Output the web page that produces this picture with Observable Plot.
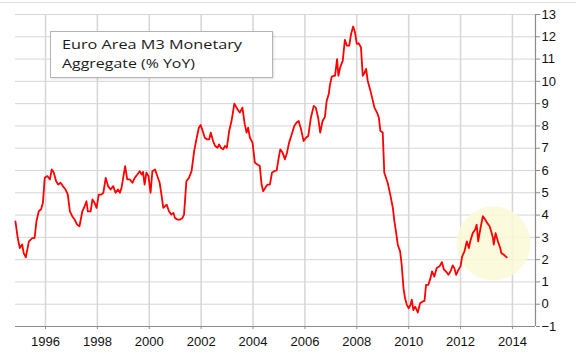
<!DOCTYPE html>
<html><head><meta charset="utf-8">
<script src="https://cdn.jsdelivr.net/npm/d3@7"></script>
<script src="https://cdn.jsdelivr.net/npm/@observablehq/plot@0.6"></script>
<style>
body{margin:0;background:#fff;}
#wrap{position:relative;width:576px;height:358px;overflow:hidden;background:#fff;}
#wrap svg.chart{position:absolute;left:0;top:0;}
#topline{position:absolute;left:0;top:2px;width:576px;height:0;border-top:1px solid #e2e2e2;}
#legend{position:absolute;left:50px;top:31px;width:221px;height:45px;border:1px solid #b4b4b4;background:#fff;box-shadow:1px 1px 2px rgba(0,0,0,0.12);}
#legend svg{position:absolute;left:0;top:0;}
</style></head><body>
<div id="wrap"><div id="topline"></div></div>
<script>
const years = [1994.84,1994.93,1995.01,1995.10,1995.16,1995.24,1995.36,1995.49,1995.58,1995.65,1995.74,1995.83,1995.90,1995.97,
1996.07,1996.17,1996.24,1996.32,1996.41,1996.49,1996.58,1996.67,1996.77,1996.86,1996.94,
1997.03,1997.12,1997.22,1997.31,1997.42,1997.51,1997.58,1997.63,1997.74,1997.81,1997.89,1997.97,
1998.05,1998.15,1998.23,1998.32,1998.41,1998.51,1998.61,1998.70,1998.79,1998.87,1998.93,
1999.07,1999.15,1999.25,1999.35,1999.44,1999.54,1999.63,1999.71,1999.76,1999.82,1999.89,1999.97,
2000.05,2000.12,2000.22,2000.31,2000.40,2000.47,2000.54,2000.61,2000.67,2000.76,2000.85,2000.93,2000.99,
2001.08,2001.19,2001.28,2001.34,2001.43,2001.53,2001.63,2001.73,2001.83,2001.91,2001.98,
2002.06,2002.14,2002.22,2002.31,2002.37,2002.46,2002.54,2002.63,2002.69,2002.76,2002.85,2002.92,2002.99,
2003.08,2003.17,2003.28,2003.40,2003.49,2003.59,2003.68,2003.75,2003.81,2003.88,2003.98,
2004.07,2004.17,2004.26,2004.33,2004.39,2004.47,2004.56,2004.65,2004.73,2004.81,2004.91,2004.98,
2005.05,2005.14,2005.23,2005.31,2005.39,2005.49,2005.59,2005.68,2005.76,2005.85,2005.95,
2006.04,2006.13,2006.23,2006.34,2006.42,2006.51,2006.59,2006.68,2006.77,2006.84,2006.92,2006.96,
2007.03,2007.11,2007.16,2007.24,2007.29,2007.36,2007.46,2007.54,2007.62,2007.71,2007.78,2007.86,2007.93,
2008.00,2008.07,2008.16,2008.23,2008.29,2008.36,2008.42,2008.51,2008.59,2008.68,2008.78,2008.85,2008.91,
2009.00,2009.06,2009.19,2009.29,2009.39,2009.45,2009.51,2009.58,2009.67,2009.73,2009.80,2009.86,2009.93,
2010.00,2010.07,2010.12,2010.18,2010.25,2010.35,2010.44,2010.54,2010.61,2010.67,2010.76,2010.84,2010.90,2010.99,
2011.08,2011.19,2011.28,2011.36,2011.44,2011.53,2011.61,2011.70,2011.76,2011.83,2011.92,
2012.00,2012.06,2012.15,2012.24,2012.32,2012.38,2012.47,2012.56,2012.62,2012.68,2012.77,2012.86,2012.95,
2013.03,2013.12,2013.18,2013.25,2013.28,2013.35,2013.44,2013.53,2013.57,2013.67,2013.78];
const values = [3.72,2.97,2.52,2.68,2.29,2.10,2.82,2.97,2.97,3.72,4.17,4.26,4.55,5.67,
5.75,5.60,6.05,5.90,5.52,5.37,5.45,5.30,5.15,4.92,4.17,
3.95,3.80,3.57,3.50,4.17,4.40,4.62,4.17,4.17,4.70,4.55,4.32,
4.92,4.92,5.00,5.67,5.30,5.15,5.30,5.00,5.15,5.00,5.22,
6.20,5.60,5.60,5.45,5.67,5.82,5.97,5.82,5.94,5.37,5.90,5.75,
5.00,5.97,6.05,5.75,5.45,4.92,4.32,4.40,4.47,4.17,4.02,4.10,3.87,
3.80,3.80,3.87,4.02,5.52,5.67,5.97,6.87,7.47,7.92,8.04,
7.77,7.47,7.40,7.40,7.70,7.32,7.10,7.02,7.17,7.02,6.95,7.10,7.02,
7.77,8.22,9.00,8.75,8.60,8.82,8.08,7.70,7.92,7.47,7.25,
6.35,6.27,6.20,5.37,5.07,5.22,5.37,5.37,5.90,5.97,6.00,6.50,
6.95,6.80,6.50,6.80,7.25,7.62,8.00,8.15,8.22,7.85,7.32,
7.47,7.55,8.37,8.90,8.82,8.37,7.70,8.22,8.40,9.13,9.43,9.80,
10.20,10.25,10.25,11.00,10.25,10.63,10.93,11.86,11.60,11.60,12.13,12.46,12.20,
11.68,11.71,11.53,10.25,10.36,10.56,10.03,9.65,9.27,8.82,8.60,8.37,7.77,
7.70,5.90,5.45,4.92,4.32,3.72,3.27,2.67,2.37,1.77,0.72,0.27,-0.03,
-0.18,-0.03,0.20,-0.26,-0.11,-0.37,0.04,0.12,0.15,0.87,0.87,1.17,1.47,1.24,
1.62,1.70,1.89,1.55,1.47,1.32,1.47,1.74,1.62,1.32,1.55,
1.70,2.14,2.37,2.82,2.52,2.85,3.19,3.34,3.57,2.82,3.42,3.95,3.80,
3.64,3.50,3.27,2.97,2.67,3.19,2.82,2.52,2.30,2.22,2.10];
const xTicks = [1996,1998,2000,2002,2004,2006,2008,2010,2012,2014];
const yTicks = [-1,0,1,2,3,4,5,6,7,8,9,10,11,12,13];
const highlight = [{year:2013.27, value:2.73}];
const titleLines = ["Euro Area M3 Monetary", "Aggregate (% YoY)"];

const data = years.map((y,i)=>({year:y, value:values[i]}));
const xDomain = [1994.843, 2014.889];

const chart = Plot.plot({
  width:576, height:358, marginLeft:15, marginRight:41, marginTop:14, marginBottom:32,
  style:{fontFamily:"'Liberation Sans', Arial, sans-serif", fontSize:"13px", color:"#000", background:"transparent"},
  x:{domain:xDomain, label:null},
  y:{domain:[-1,13], label:null},
  marks:[
    Plot.gridY(yTicks,{stroke:"#d6d6d6", strokeOpacity:1, strokeWidth:1}),
    Plot.gridX(xTicks,{stroke:"#d6d6d6", strokeOpacity:1, strokeWidth:1.5}),
    Plot.dot(highlight,{x:"year", y:"value", r:37, fill:"#fcf9d6", fillOpacity:0.85, stroke:null}),
    Plot.ruleY([-1],{stroke:"#8c8c8c", strokeWidth:1.2}),
    Plot.ruleX([xDomain[1]],{stroke:"#8c8c8c", strokeWidth:1.2}),
    Plot.axisX(xTicks,{anchor:"bottom", tickSize:3, tickPadding:7, stroke:"#8c8c8c", fill:"#111", tickFormat:d=>String(d), label:null}),
    Plot.axisY(yTicks,{anchor:"right", tickSize:4, tickPadding:2, stroke:"#8c8c8c", fill:"#111", label:null}),
    Plot.line(data,{x:"year", y:"value", stroke:"#ff0000", strokeWidth:1.8, curve:"linear"})
  ]
});
chart.classList.add("chart");
const wrap = document.getElementById("wrap");
wrap.appendChild(chart);

const legend = document.createElement("div");
legend.id = "legend";
const ns = "http://www.w3.org/2000/svg";
const lsvg = document.createElementNS(ns,"svg");
lsvg.setAttribute("width","221"); lsvg.setAttribute("height","45");
const lens = [180,133];
titleLines.forEach((t,i)=>{
  const tx = document.createElementNS(ns,"text");
  tx.setAttribute("x","11");
  tx.setAttribute("y", String(17 + i*18.5));
  tx.setAttribute("textLength", String(lens[i]));
  tx.setAttribute("lengthAdjust","spacingAndGlyphs");
  tx.setAttribute("font-family","'Open Sans', 'Liberation Sans', sans-serif");
  tx.setAttribute("font-size","13");
  tx.setAttribute("fill","#1a1a1a");
  tx.textContent = t;
  lsvg.appendChild(tx);
});
legend.appendChild(lsvg);
wrap.appendChild(legend);
</script>
</body></html>
